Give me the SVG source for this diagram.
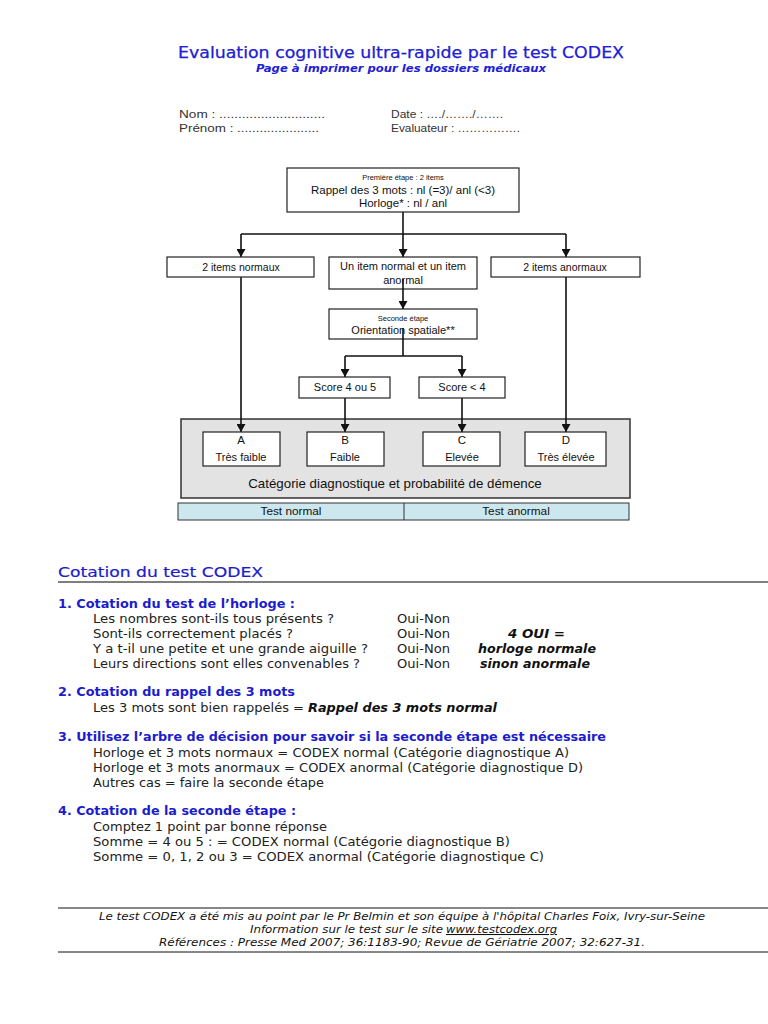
<svg xmlns="http://www.w3.org/2000/svg" width="768" height="1024" viewBox="0 0 768 1024">
<defs>
<style>
.b{fill:#fff;stroke:#222;stroke-width:1.2}
.a{font-family:"Liberation Sans",Arial,sans-serif;fill:#111}
.c{stroke:#111;stroke-width:1.6;fill:none}
.t{font-family:"DejaVu Sans",Verdana,sans-serif;fill:#222;font-size:11.5px}
.h{font-family:"DejaVu Sans",Verdana,sans-serif;fill:#1c1ccc;font-size:12px;font-weight:bold}
.bi{font-family:"DejaVu Sans",Verdana,sans-serif;fill:#111;font-size:12px;font-weight:bold;font-style:italic}
.f{font-family:"DejaVu Sans",Verdana,sans-serif;fill:#111;font-size:10.5px;font-style:italic}
</style>
<marker id="ar" markerUnits="userSpaceOnUse" markerWidth="8" markerHeight="9" refX="8" refY="4.5" orient="auto">
<path d="M0,0 L8,4.5 L0,9 z" fill="#111"/>
</marker>
</defs>
<rect width="768" height="1024" fill="#fff"/>

<g id="title">
<text x="401" y="58" text-anchor="middle" font-family="DejaVu Sans,Verdana,sans-serif" font-size="15" fill="#2020d4" stroke="#2020d4" stroke-width="0.25" textLength="446" lengthAdjust="spacingAndGlyphs">Evaluation cognitive ultra-rapide par le test CODEX</text>
<text x="401" y="72" text-anchor="middle" font-family="DejaVu Sans,Verdana,sans-serif" font-size="10.5" font-weight="bold" font-style="italic" fill="#2020d4" textLength="290" lengthAdjust="spacingAndGlyphs">Page à imprimer pour les dossiers médicaux</text>
</g>

<g id="identity" class="a" font-size="11.5">
<text x="179" y="118" fill="#333" textLength="146" lengthAdjust="spacingAndGlyphs">Nom : ............................</text>
<text x="179" y="132" fill="#333" textLength="140" lengthAdjust="spacingAndGlyphs">Prénom : ......................</text>
<text x="391" y="118" fill="#333" textLength="112" lengthAdjust="spacingAndGlyphs">Date : …./……./…….</text>
<text x="391" y="132" fill="#333" textLength="129" lengthAdjust="spacingAndGlyphs">Evaluateur : …………….</text>
</g>

<g id="panel">
<rect x="181" y="419" width="449" height="79" fill="#e3e3e3" stroke="#333" stroke-width="1.5"/>
<text class="a" x="395" y="488" text-anchor="middle" font-size="13.3">Catégorie diagnostique et probabilité de démence</text>
</g>

<g id="connectors">
<line class="c" x1="403" y1="212" x2="403" y2="257" marker-end="url(#ar)"/>
<line class="c" x1="241" y1="234" x2="566" y2="234"/>
<line class="c" x1="241" y1="234" x2="241" y2="257" marker-end="url(#ar)"/>
<line class="c" x1="566" y1="234" x2="566" y2="257" marker-end="url(#ar)"/>
<line class="c" x1="241" y1="277" x2="241" y2="432" marker-end="url(#ar)"/>
<line class="c" x1="566" y1="277" x2="566" y2="432" marker-end="url(#ar)"/>
<line class="c" x1="345" y1="356" x2="462" y2="356"/>
<line class="c" x1="345" y1="356" x2="345" y2="377" marker-end="url(#ar)"/>
<line class="c" x1="462" y1="356" x2="462" y2="377" marker-end="url(#ar)"/>
<line class="c" x1="345" y1="398" x2="345" y2="432" marker-end="url(#ar)"/>
<line class="c" stroke-width="1" x1="462" y1="398" x2="462" y2="432" marker-end="url(#ar)"/>
</g>

<g id="step1">
<rect class="b" x="287" y="168" width="232" height="44"/>
<text class="a" x="403" y="180" text-anchor="middle" font-size="7.5">Première étape : 2 items</text>
<text class="a" x="403" y="194" text-anchor="middle" font-size="11.5">Rappel des 3 mots : nl (=3)/ anl (&lt;3)</text>
<text class="a" x="403" y="207" text-anchor="middle" font-size="11.5">Horloge* : nl / anl</text>
</g>

<g id="n-normaux">
<rect class="b" x="167" y="257" width="147" height="20"/>
<text class="a" x="241" y="271" text-anchor="middle" font-size="10.5">2 items normaux</text>
</g>

<g id="n-mixte">
<rect class="b" x="329" y="257" width="148" height="32"/>
<text class="a" x="403" y="270" text-anchor="middle" font-size="11">Un item normal et un item</text>
<text class="a" x="403" y="284" text-anchor="middle" font-size="11">anormal</text>
<line class="c" x1="403" y1="279" x2="403" y2="309" marker-end="url(#ar)"/>
</g>

<g id="n-anormaux">
<rect class="b" x="491" y="257" width="149" height="20"/>
<text class="a" x="565" y="271" text-anchor="middle" font-size="10.5">2 items anormaux</text>
</g>

<g id="step2">
<rect class="b" x="329" y="309" width="148" height="30"/>
<text class="a" x="403" y="321" text-anchor="middle" font-size="7.5">Seconde étape</text>
<text class="a" x="403" y="334" text-anchor="middle" font-size="11">Orientation spatiale**</text>
<line class="c" x1="403" y1="328" x2="403" y2="356"/>
</g>

<g id="score45">
<rect class="b" x="299" y="377" width="91" height="21"/>
<text class="a" x="345" y="391" text-anchor="middle" font-size="11">Score 4 ou 5</text>
</g>

<g id="score4">
<rect class="b" x="419" y="377" width="86" height="21"/>
<text class="a" x="462" y="391" text-anchor="middle" font-size="11">Score &lt; 4</text>
</g>

<g id="catA">
<rect class="b" x="203" y="432" width="77" height="34"/>
<text class="a" x="241" y="444" text-anchor="middle" font-size="11.5">A</text>
<text class="a" x="241" y="461" text-anchor="middle" font-size="11">Très faible</text>
</g>
<g id="catB">
<rect class="b" x="307" y="432" width="77" height="34"/>
<text class="a" x="345" y="444" text-anchor="middle" font-size="11.5">B</text>
<text class="a" x="345" y="461" text-anchor="middle" font-size="11">Faible</text>
</g>
<g id="catC">
<rect class="b" x="423" y="432" width="77" height="34"/>
<text class="a" x="462" y="444" text-anchor="middle" font-size="11.5">C</text>
<text class="a" x="462" y="461" text-anchor="middle" font-size="11">Elevée</text>
</g>
<g id="catD">
<rect class="b" x="525" y="432" width="81" height="34"/>
<text class="a" x="566" y="444" text-anchor="middle" font-size="11.5">D</text>
<text class="a" x="566" y="461" text-anchor="middle" font-size="11">Très élevée</text>
</g>

<g id="resultbar">
<rect x="178" y="503" width="451" height="17" fill="#cde7ee" stroke="#333" stroke-width="1"/>
<line x1="404" y1="503" x2="404" y2="520" stroke="#333" stroke-width="1"/>
<text class="a" x="291" y="515" text-anchor="middle" font-size="11.8">Test normal</text>
<text class="a" x="516" y="515" text-anchor="middle" font-size="11.8">Test anormal</text>
</g>

<g id="cotation">
<text x="58" y="577" font-family="DejaVu Sans,Verdana,sans-serif" font-size="14.5" fill="#1c1ccc" stroke="#1c1ccc" stroke-width="0.2" textLength="205" lengthAdjust="spacingAndGlyphs">Cotation du test CODEX</text>
<line x1="58" y1="582" x2="773" y2="582" stroke="#555" stroke-width="1.5"/>

<text class="h" x="58" y="608" textLength="237" lengthAdjust="spacingAndGlyphs">1. Cotation du test de l’horloge :</text>
<text class="t" x="93" y="623" textLength="241" lengthAdjust="spacingAndGlyphs">Les nombres sont-ils tous présents ?</text>
<text class="t" x="93" y="638" textLength="200" lengthAdjust="spacingAndGlyphs">Sont-ils correctement placés ?</text>
<text class="t" x="93" y="653" textLength="275" lengthAdjust="spacingAndGlyphs">Y a t-il une petite et une grande aiguille ?</text>
<text class="t" x="93" y="668" textLength="267" lengthAdjust="spacingAndGlyphs">Leurs directions sont elles convenables ?</text>
<text class="t" x="397" y="623" textLength="53" lengthAdjust="spacingAndGlyphs">Oui-Non</text>
<text class="t" x="397" y="638" textLength="53" lengthAdjust="spacingAndGlyphs">Oui-Non</text>
<text class="t" x="397" y="653" textLength="53" lengthAdjust="spacingAndGlyphs">Oui-Non</text>
<text class="t" x="397" y="668" textLength="53" lengthAdjust="spacingAndGlyphs">Oui-Non</text>
<text class="bi" x="508" y="638" textLength="57" lengthAdjust="spacingAndGlyphs">4 OUI =</text>
<text class="bi" x="478" y="653" textLength="118" lengthAdjust="spacingAndGlyphs">horloge normale</text>
<text class="bi" x="480" y="668" textLength="110" lengthAdjust="spacingAndGlyphs">sinon anormale</text>

<text class="h" x="58" y="696" textLength="237" lengthAdjust="spacingAndGlyphs">2. Cotation du rappel des 3 mots</text>
<text class="t" x="93" y="712" textLength="211" lengthAdjust="spacingAndGlyphs">Les 3 mots sont bien rappelés =</text>
<text class="bi" x="308" y="712" textLength="189" lengthAdjust="spacingAndGlyphs">Rappel des 3 mots normal</text>

<text class="h" x="58" y="741" textLength="548" lengthAdjust="spacingAndGlyphs">3. Utilisez l’arbre de décision pour savoir si la seconde étape est nécessaire</text>
<text class="t" x="93" y="757" textLength="476" lengthAdjust="spacingAndGlyphs">Horloge et 3 mots normaux = CODEX normal (Catégorie diagnostique A)</text>
<text class="t" x="93" y="772" textLength="490" lengthAdjust="spacingAndGlyphs">Horloge et 3 mots anormaux = CODEX anormal (Catégorie diagnostique D)</text>
<text class="t" x="93" y="787" textLength="231" lengthAdjust="spacingAndGlyphs">Autres cas = faire la seconde étape</text>

<text class="h" x="58" y="815" textLength="238" lengthAdjust="spacingAndGlyphs">4. Cotation de la seconde étape :</text>
<text class="t" x="93" y="831" textLength="234" lengthAdjust="spacingAndGlyphs">Comptez 1 point par bonne réponse</text>
<text class="t" x="93" y="846" textLength="417" lengthAdjust="spacingAndGlyphs">Somme = 4 ou 5 : = CODEX normal (Catégorie diagnostique B)</text>
<text class="t" x="93" y="861" textLength="451" lengthAdjust="spacingAndGlyphs">Somme = 0, 1, 2 ou 3 = CODEX anormal (Catégorie diagnostique C)</text>
</g>

<g id="footer">
<line x1="58" y1="908" x2="773" y2="908" stroke="#111" stroke-width="1"/>
<text class="f" x="402" y="920" text-anchor="middle" textLength="606" lengthAdjust="spacingAndGlyphs">Le test CODEX a été mis au point par le Pr Belmin et son équipe à l'hôpital Charles Foix, Ivry-sur-Seine</text>
<text class="f" x="250" y="933" textLength="193" lengthAdjust="spacingAndGlyphs">Information sur le test sur le site</text>
<text class="f" x="446" y="933" fill="#2020d4" text-decoration="underline" textLength="111" lengthAdjust="spacingAndGlyphs">www.testcodex.org</text>
<text class="f" x="402" y="946" text-anchor="middle" textLength="486" lengthAdjust="spacingAndGlyphs">Références : Presse Med 2007; 36:1183-90; Revue de Gériatrie 2007; 32:627-31.</text>
<line x1="58" y1="952" x2="773" y2="952" stroke="#111" stroke-width="1"/>
</g>
</svg>
